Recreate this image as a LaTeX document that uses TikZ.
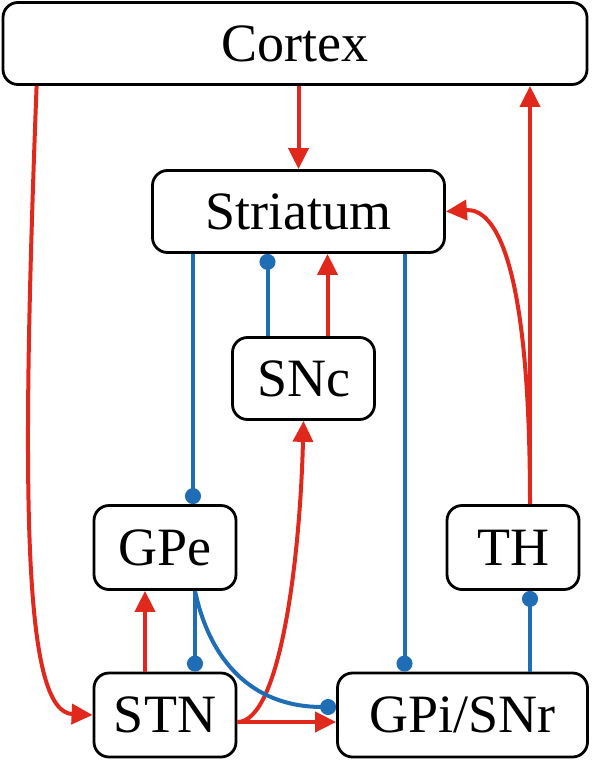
\documentclass[tikz,border=0pt]{standalone}
\usepackage{fontspec}
\setmainfont{Liberation Serif}
\usetikzlibrary{arrows.meta}
\definecolor{excred}{RGB}{224,41,28}
\definecolor{inhblue}{RGB}{31,109,181}

\begin{document}
\begin{tikzpicture}[x=0.5pt, y=-0.5pt,
		box/.style={draw, line width=1.4pt, rounded corners=7.5pt, inner sep=0pt, font=\fontsize{27}{32}\selectfont},
		exc/.style={excred, line width=2pt, -{Triangle[length=10.5pt,width=10pt]}},
		inh/.style={inhblue, line width=2pt, -{Circle[length=8pt]}}]
				\useasboundingbox (0,0) rectangle (591,760);

				\node[box, minimum width=292pt, minimum height=41pt] (cortex) at (295,43.5) {Cortex};
				\node[box, minimum width=146pt, minimum height=41pt] (striatum) at (298.5,211.5) {Striatum};
				\node[box, minimum width=71pt, minimum height=41pt] (snc) at (303.5,378.5) {SNc};
				\node[box, minimum width=71pt, minimum height=42pt] (gpe) at (165,547.5) {GPe};
				\node[box, minimum width=66pt, minimum height=42pt] (th) at (513,547.5) {TH};
				\node[box, minimum width=71pt, minimum height=42pt] (stn) at (165,715) {STN};
				\node[box, minimum width=125pt, minimum height=42pt] (gpi) at (462.5,715) {GPi/SNr};

				% excitatory
				\draw[exc] (cortex.south -| striatum.north) -- (striatum.north);
				\draw[exc] ([xshift=17.5pt]cortex.south west) .. controls (20,520) and (25,712) .. (stn.west);
				\draw[exc] ([xshift=8.5pt]th.north) -- ([xshift=8.5pt]th.north |- cortex.south);
				\draw[exc] ([xshift=8.5pt]th.north) .. controls (530,260) and (495,208) .. (striatum.east);
				\draw[exc] ([xshift=12pt]snc.north) -- ([xshift=12pt]snc.north |- striatum.south);
				\draw[exc] ([xshift=-10pt]stn.north) -- ([xshift=-10pt]stn.north |- gpe.south);
				\draw[exc] ([yshift=-3.5pt]stn.east) -- ([yshift=-3.5pt]stn.east -| gpi.west);
				\draw[exc] ([yshift=-3.5pt]stn.east) .. controls (280,722) and (300,560) .. (snc.south);

				% inhibitory
				\draw[inh] ([xshift=14pt]gpe.north |- striatum.south) -- ([xshift=14pt]gpe.north);
				\draw[inh] ([xshift=-18pt]snc.north) -- ([xshift=-18pt]snc.north |- striatum.south);
				\draw[inh] ([xshift=-29pt]gpi.north |- striatum.south) -- ([xshift=-29pt]gpi.north);
				\draw[inh] ([xshift=15pt]gpe.south) -- ([xshift=15pt]gpe.south |- stn.north);
				\draw[inh] ([xshift=15pt]gpe.south) .. controls (212,670) and (260,707) .. ([yshift=4pt]gpi.west);
				\draw[inh] ([xshift=33.75pt]gpi.north) -- ([xshift=33.75pt]gpi.north |- th.south);
			\end{tikzpicture}
\end{document}
